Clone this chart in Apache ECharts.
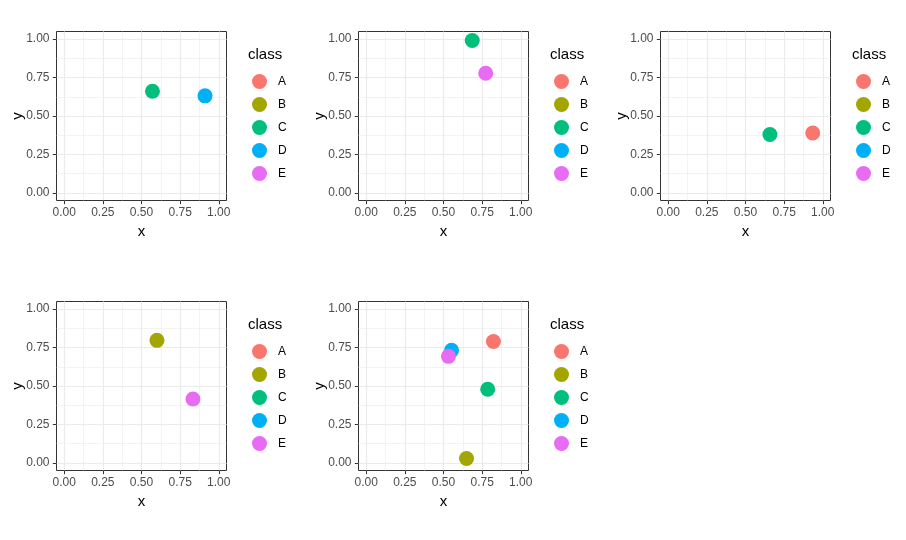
<!DOCTYPE html>
<html>
<head>
<meta charset="utf-8">
<script src="https://cdn.jsdelivr.net/npm/echarts@6/dist/echarts.min.js"></script>
<style>
  html, body { margin: 0; padding: 0; background: #fff; }
  #main { width: 906px; height: 540px; }
</style>
</head>
<body>
<div id="main"></div>
<script>
var classes = ['A', 'B', 'C', 'D', 'E'];
var classColors = ['#F8766D', '#A3A500', '#00BF7D', '#00B0F6', '#E76BF3'];
var majorTicks = [0, 0.25, 0.5, 0.75, 1];
var minorTicks = [0.125, 0.375, 0.625, 0.875];

// points of each panel
var p1Class = ['C', 'D'];
var p1X = [0.571, 0.911];
var p1Y = [0.661, 0.631];

var p2Class = ['C', 'E'];
var p2X = [0.686, 0.773];
var p2Y = [0.991, 0.778];

var p3Class = ['C', 'A'];
var p3X = [0.658, 0.935];
var p3Y = [0.380, 0.389];

var p4Class = ['B', 'E'];
var p4X = [0.600, 0.833];
var p4Y = [0.797, 0.415];

var p5Class = ['A', 'B', 'C', 'D', 'E'];
var p5X = [0.823, 0.649, 0.786, 0.552, 0.532];
var p5Y = [0.790, 0.028, 0.479, 0.732, 0.693];

var panels = [
    { cls: p1Class, x: p1X, y: p1Y, left: 56.5, top: 31.5 },
    { cls: p2Class, x: p2X, y: p2Y, left: 358.5, top: 31.5 },
    { cls: p3Class, x: p3X, y: p3Y, left: 660.5, top: 31.5 },
    { cls: p4Class, x: p4X, y: p4Y, left: 56.5, top: 301.5 },
    { cls: p5Class, x: p5X, y: p5Y, left: 358.5, top: 301.5 }
];

var font = "'Liberation Sans', Arial, sans-serif";
var W = 170, H = 169;

var grids = [], xAxes = [], yAxes = [], series = [], legends = [], titles = [];

function majorAxis(gi, isX) {
    return {
        type: 'value', gridIndex: gi, min: -0.05, max: 1.05,
        name: isX ? 'x' : 'y', nameLocation: 'middle', nameGap: isX ? 24 : 31,
        nameMoveOverlap: false,
        nameTextStyle: { color: '#000', fontSize: 15, fontFamily: font },
        axisLine: { show: false, onZero: false },
        axisTick: { show: true, customValues: majorTicks, length: 3.7, lineStyle: { color: '#333333', width: 1 } },
        axisLabel: {
            customValues: majorTicks, color: '#4D4D4D', fontSize: 12, fontFamily: font,
            margin: isX ? 6 : 7,
            formatter: function (v) { return v.toFixed(2); }
        },
        splitLine: { show: true, lineStyle: { color: '#EBEBEB', width: 1.1 } }
    };
}

function minorAxis(gi) {
    return {
        type: 'value', gridIndex: gi, min: -0.05, max: 1.05,
        axisLine: { show: false, onZero: false },
        axisTick: { show: false, customValues: minorTicks },
        axisLabel: { show: false },
        splitLine: { show: true, lineStyle: { color: '#EBEBEB', width: 0.6 } }
    };
}

panels.forEach(function (p, i) {
    grids.push({
        left: p.left, top: p.top, width: W, height: H,
        show: true, backgroundColor: '#fff', borderColor: '#333333', borderWidth: 1
    });
    xAxes.push(majorAxis(i, true));
    xAxes.push(minorAxis(i));
    yAxes.push(majorAxis(i, false));
    yAxes.push(minorAxis(i));

    classes.forEach(function (c, k) {
        var pts = [];
        p.cls.forEach(function (pc, j) {
            if (pc === c) pts.push([p.x[j], p.y[j]]);
        });
        series.push({
            type: 'scatter', name: c, xAxisIndex: 2 * i, yAxisIndex: 2 * i,
            data: pts, symbolSize: 15,
            itemStyle: { color: classColors[k], opacity: 1 },
            z: 5
        });
    });

    titles.push({
        text: 'class', left: p.left + 191.5, top: p.top + 16, padding: 0,
        textStyle: { color: '#000', fontSize: 15, fontWeight: 'normal', fontFamily: font }
    });
    legends.push({
        data: classes, orient: 'vertical', left: p.left + 195.5, top: p.top + 42.5,
        padding: 0, itemWidth: 15, itemHeight: 15, itemGap: 8, icon: 'circle',
        selectedMode: false,
        textStyle: { color: '#000', fontSize: 12, fontFamily: font, padding: [0, 0, 0, 6] }
    });
});

var myChart = echarts.init(document.getElementById('main'));
myChart.setOption({
    backgroundColor: '#fff',
    animation: false,
    title: titles,
    legend: legends,
    grid: grids,
    xAxis: xAxes,
    yAxis: yAxes,
    series: series
});
</script>
</body>
</html>
